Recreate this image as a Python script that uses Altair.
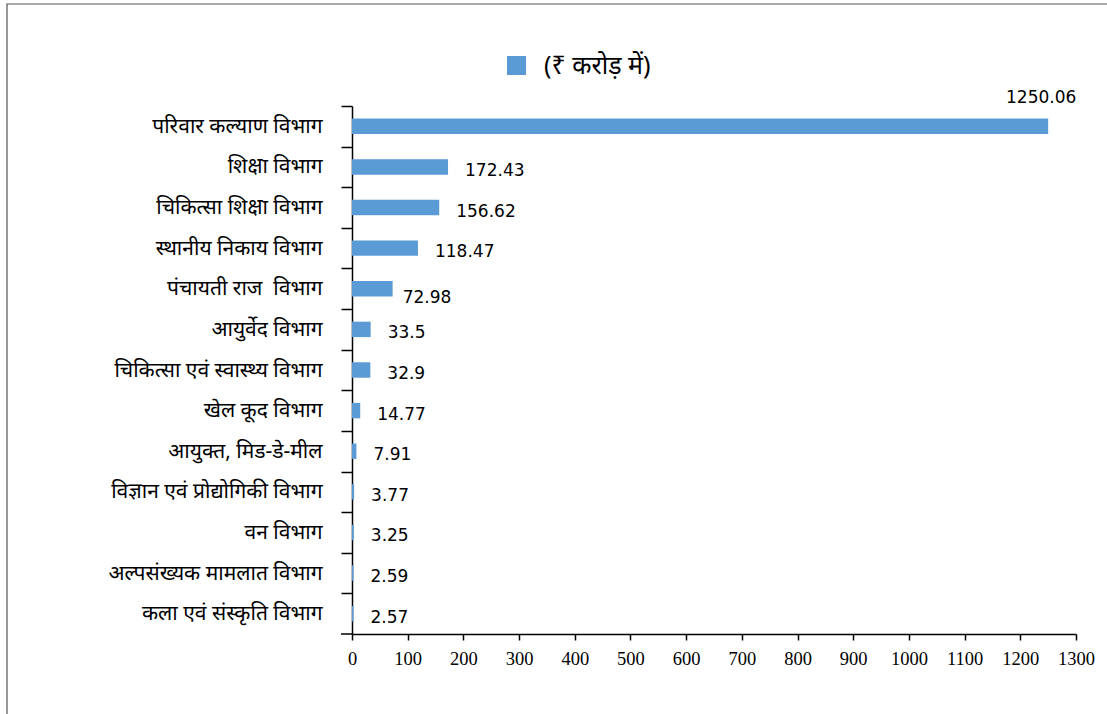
import altair as alt
import pandas as pd

categories = [
    "परिवार कल्याण विभाग",
    "शिक्षा विभाग",
    "चिकित्सा शिक्षा विभाग",
    "स्थानीय निकाय विभाग",
    "पंचायती राज\u00a0 विभाग",
    "आयुर्वेद विभाग",
    "चिकित्सा एवं स्वास्थ्य विभाग",
    "खेल कूद विभाग",
    "आयुक्त, मिड-डे-मील",
    "विज्ञान एवं प्रोद्योगिकी विभाग",
    "वन विभाग",
    "अल्पसंख्यक मामलात विभाग",
    "कला एवं संस्कृति विभाग\u00a0\u00a0",
]
values = [1250.06, 172.43, 156.62, 118.47, 72.98, 33.5, 32.9, 14.77, 7.91, 3.77, 3.25, 2.59, 2.57]
value_labels = ["1250.06", "172.43", "156.62", "118.47", "72.98", "33.5", "32.9",
                "14.77", "7.91", "3.77", "3.25", "2.59", "2.57"]
series_name = "(₹ करोड़ में)"
x_ticks = list(range(0, 1301, 100))

df = pd.DataFrame({
    "dept": categories,
    "value": values,
    "label": value_labels,
    "series": [series_name] * len(categories),
    "rank": list(range(len(categories))),
})

W, H = 724, 528
PAD_L, PAD_T = 352, 106
STEP = H / len(categories)
BLUE = "#5B9BD5"
DEV_FONT = "Noto Sans, DejaVu Sans, sans-serif"

base = alt.Chart(df)

y_enc = alt.Y(
    "dept:N", sort=categories, title=None,
    scale=alt.Scale(paddingInner=0.62, paddingOuter=0.31),
    axis=alt.Axis(
        domainColor="black", domainWidth=1.5, tickColor="black", tickWidth=1.5,
        tickSize=11, tickOffset=-STEP / 2, labelOffset=STEP / 2,
        labelPadding=19, labelFont=DEV_FONT,
        labelFontSize=21, labelColor="black", labelLimit=400, grid=False,
    ),
)
x_enc = alt.X(
    "value:Q", title=None,
    scale=alt.Scale(domain=[0, 1300], nice=False),
    axis=alt.Axis(
        values=x_ticks, format="d", domainColor="black", domainWidth=1.5, tickColor="black",
        tickWidth=1.5, tickSize=6, labelPadding=9, labelFont="Liberation Serif",
        labelFontSize=18.5, labelColor="black", grid=False, labelFlush=False,
    ),
)

bars = base.mark_bar(color=BLUE).encode(
    x=x_enc, y=y_enc,
    color=alt.Color(
        "series:N", title=None,
        scale=alt.Scale(domain=[series_name], range=[BLUE]),
        legend=alt.Legend(
            orient="none", legendX=152, legendY=-53, symbolType="square",
            symbolSize=361, symbolStrokeWidth=0, labelFont=DEV_FONT, labelFontSize=25,
            labelColor="black", labelOffset=15, padding=0, symbolOpacity=1,
        ),
    ),
)

txt_style = dict(font="DejaVu Sans", fontSize=17, color="black")

top_label = base.transform_filter(alt.datum.rank == 0).mark_text(
    align="center", baseline="middle", dx=-7, dy=-28, **txt_style
).encode(x="value:Q", y=alt.Y("dept:N", sort=categories), text="label:N")

special_label = base.transform_filter(alt.datum.rank == 4).mark_text(
    align="left", baseline="middle", dx=10, dy=9, **txt_style
).encode(x="value:Q", y=alt.Y("dept:N", sort=categories), text="label:N")

other_labels = base.transform_filter(
    (alt.datum.rank != 0) & (alt.datum.rank != 4)
).mark_text(
    align="left", baseline="middle", dx=17, dy=4, **txt_style
).encode(x="value:Q", y=alt.Y("dept:N", sort=categories), text="label:N")

one = pd.DataFrame({"k": [0]})

frame = alt.Chart(one).mark_rect(
    fill=None, stroke="#555555", strokeWidth=1.2
).encode(
    x=alt.value(7 - PAD_L), x2=alt.value(1107 - PAD_L + 10),
    y=alt.value(4 - PAD_T), y2=alt.value(714 - PAD_T + 10),
)

bottom_tick = alt.Chart(one).mark_rule(color="black", strokeWidth=1.5).encode(
    x=alt.value(-11), x2=alt.value(0), y=alt.value(H),
)

chart = alt.layer(frame, bars, top_label, special_label, other_labels, bottom_tick).properties(
    width=W, height=H,
    autosize=alt.AutoSizeParams(type="none"),
    padding={"left": PAD_L, "top": PAD_T, "right": 1107 - PAD_L - W, "bottom": 714 - PAD_T - H},
    background="white",
).configure_view(stroke=None)

chart.save("out.html", embed_options={"renderer": "svg", "actions": False})
